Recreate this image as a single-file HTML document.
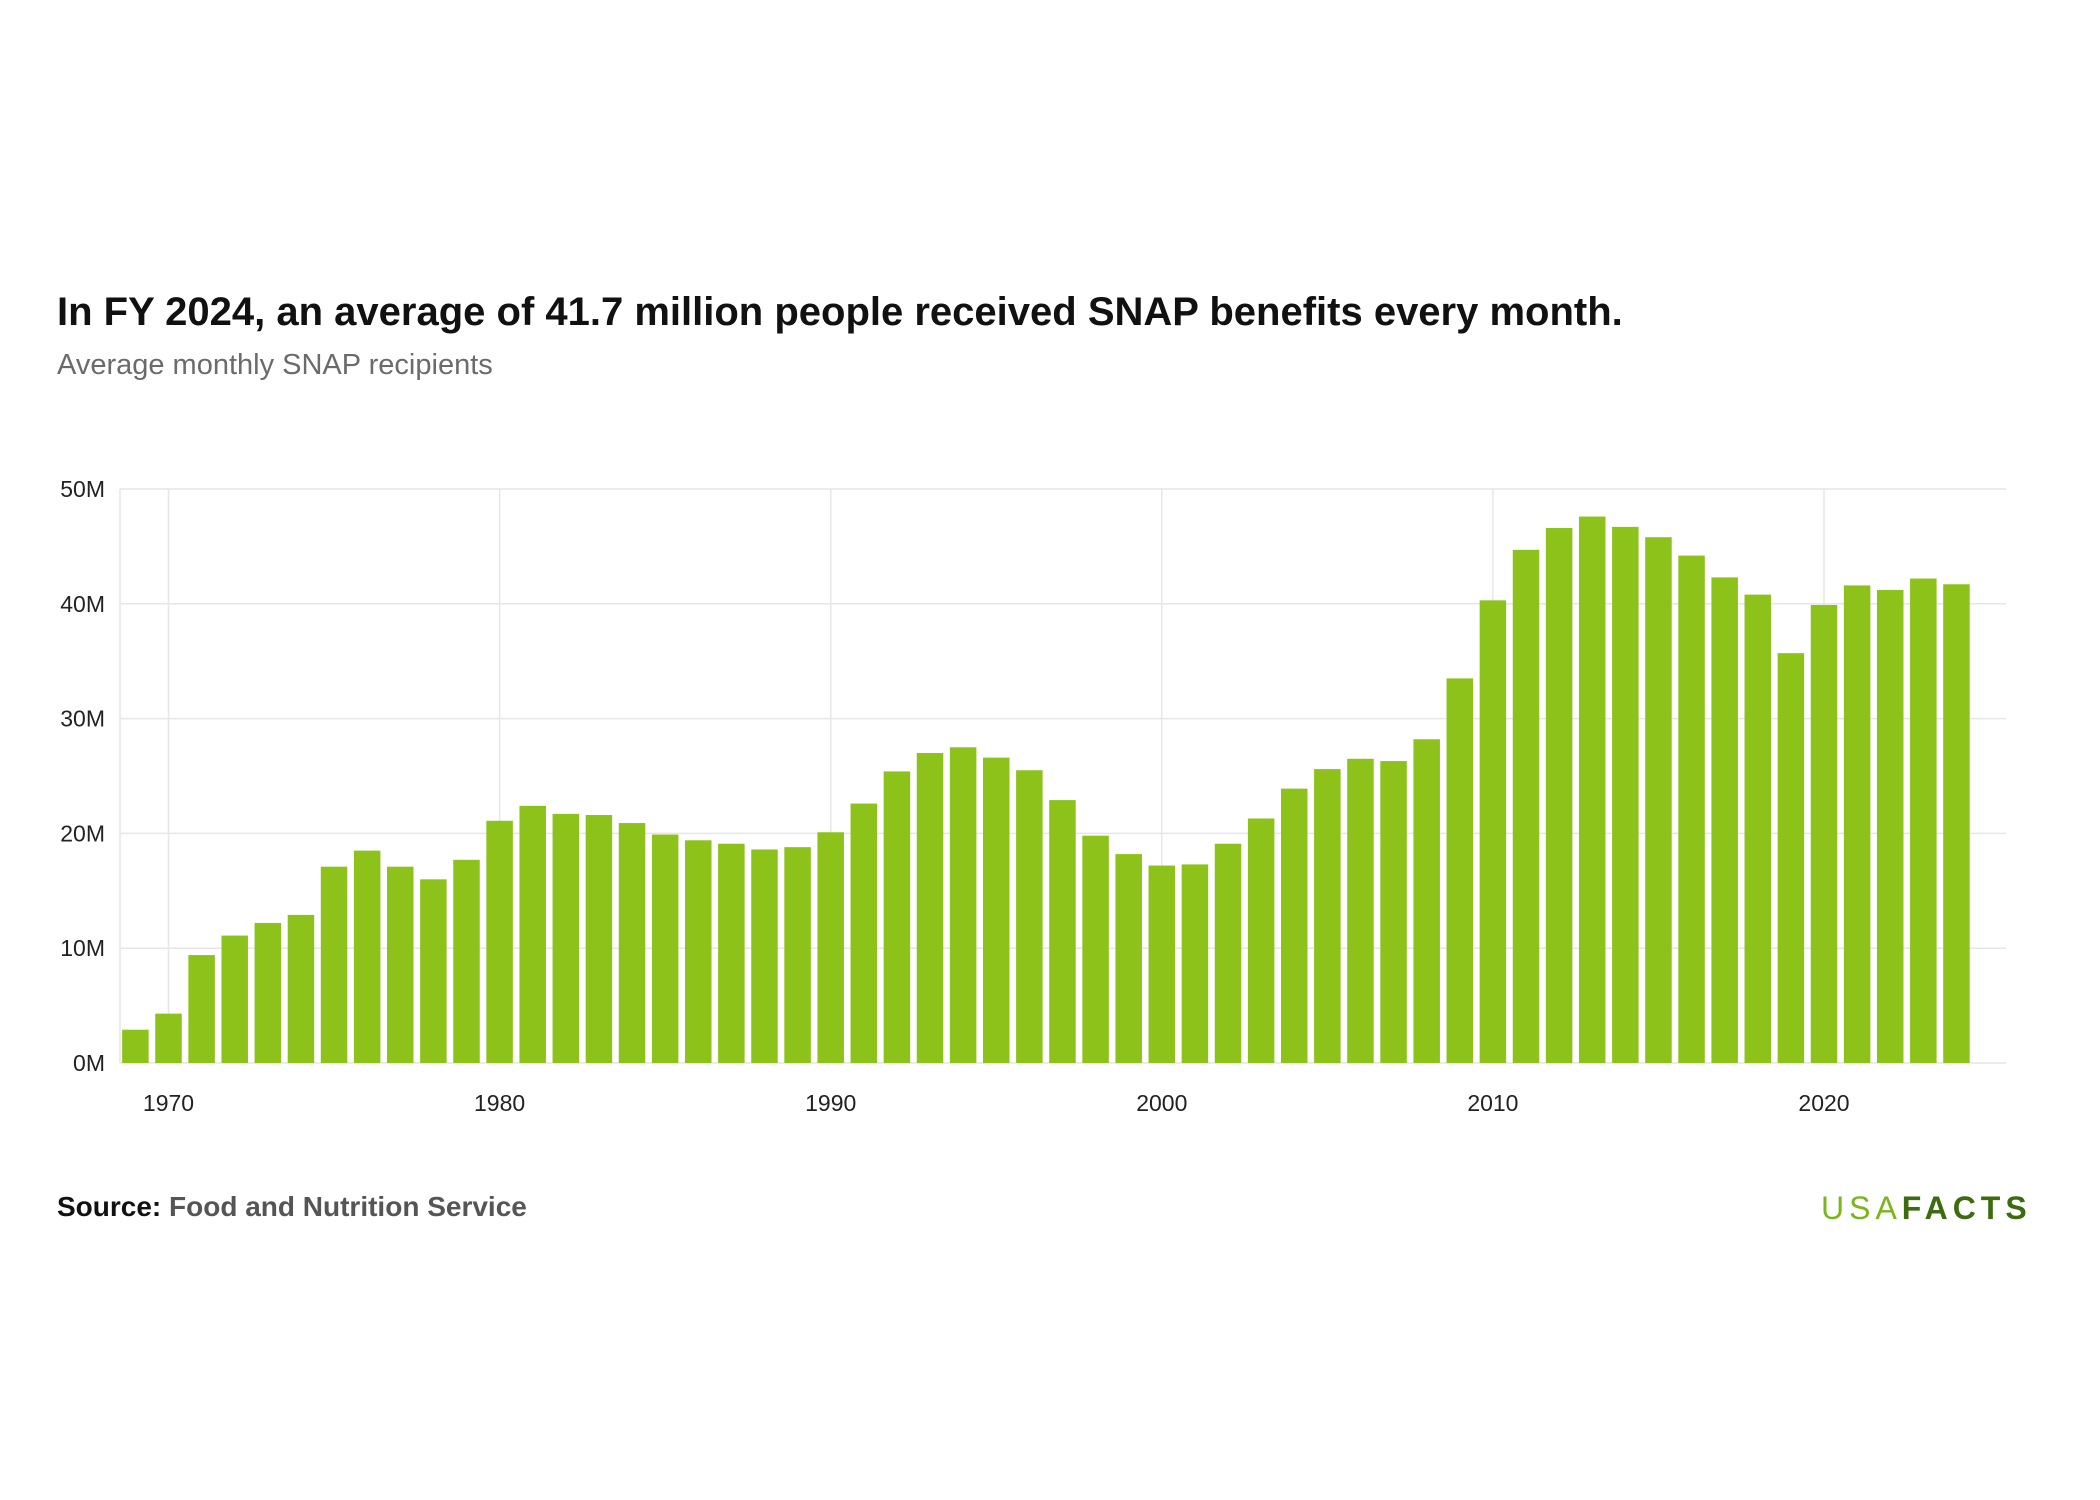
<!DOCTYPE html>
<html><head><meta charset="utf-8"><style>
html,body{margin:0;padding:0;background:#fff;width:2100px;height:1500px;overflow:hidden;font-family:"Liberation Sans",sans-serif}
.t{position:absolute;white-space:nowrap}
</style></head><body>
<div class="t" style="left:57px;top:290px;font-size:40px;font-weight:bold;color:#111;letter-spacing:0px">In FY 2024, an average of 41.7 million people received SNAP benefits every month.</div>
<div class="t" style="left:57px;top:349px;font-size:29px;color:#6b6b6b">Average monthly SNAP recipients</div>
<svg id="chart" width="2100" height="1500" style="position:absolute;left:0;top:0"></svg>
<div class="t" style="left:57px;top:1191px;font-size:28px;font-weight:bold;color:#111">Source: <span style="color:#555">Food and Nutrition Service</span></div>
<div class="t" style="left:1821px;top:1190px;font-size:32px;letter-spacing:5px;color:#7ab51d">USA<b style="color:#3d6b10">FACTS</b></div>
<script>
const years = [];
for (let y = 1969; y <= 2024; y++) years.push(y);
const values = [2.9,4.3,9.4,11.1,12.2,12.9,17.1,18.5,17.1,16.0,17.7,21.1,22.4,21.7,21.6,20.9,19.9,19.4,19.1,18.6,18.8,20.1,22.6,25.4,27.0,27.5,26.6,25.5,22.9,19.8,18.2,17.2,17.3,19.1,21.3,23.9,25.6,26.5,26.3,28.2,33.5,40.3,44.7,46.6,47.6,46.7,45.8,44.2,42.3,40.8,35.7,39.9,41.6,41.2,42.2,41.7];
const yTicks = [0,10,20,30,40,50];
const yTickLabels = ["0M","10M","20M","30M","40M","50M"];
const xTicks = [1970,1980,1990,2000,2010,2020];

const svg = document.getElementById('chart');
const NS = 'http://www.w3.org/2000/svg';
const L = 120, R = 2006, T = 489, B = 1063;
const yMax = 50;
const yS = v => B - v / yMax * (B - T);
const step = 33.11;
const xS = yr => 168.5 + (yr - 1970) * step;
const bw = 26.5;
function mk(tag, attrs) { const e = document.createElementNS(NS, tag); for (const k in attrs) e.setAttribute(k, attrs[k]); svg.appendChild(e); return e; }

yTicks.forEach((t, i) => {
  const g = mk('line', {x1: L, x2: R, y1: yS(t), y2: yS(t), stroke: '#e6e6e6', 'stroke-width': 1.5});
  
  
  const tx = mk('text', {x: 105, y: yS(t) + 8, 'text-anchor': 'end', 'font-size': 23, fill: '#222', 'font-family': 'Liberation Sans, sans-serif'});
  tx.textContent = yTickLabels[i];
  
  
});
const ax = mk('line', {x1: L, x2: L, y1: T, y2: B, stroke: '#e6e6e6', 'stroke-width': 1.5});


xTicks.forEach(t => {
  const g = mk('line', {x1: xS(t), x2: xS(t), y1: T, y2: B, stroke: '#e6e6e6', 'stroke-width': 1.5});
  
  
  const tx = mk('text', {x: xS(t), y: 1111, 'text-anchor': 'middle', 'font-size': 23, fill: '#222', 'font-family': 'Liberation Sans, sans-serif'});
  tx.textContent = t;
  
  
});
years.forEach((yr, i) => {
  const r = mk('rect', {x: xS(yr) - bw / 2, y: yS(values[i]), width: bw, height: B - yS(values[i]), fill: '#8cc21a'});
  
  
});
</script>
</body></html>
